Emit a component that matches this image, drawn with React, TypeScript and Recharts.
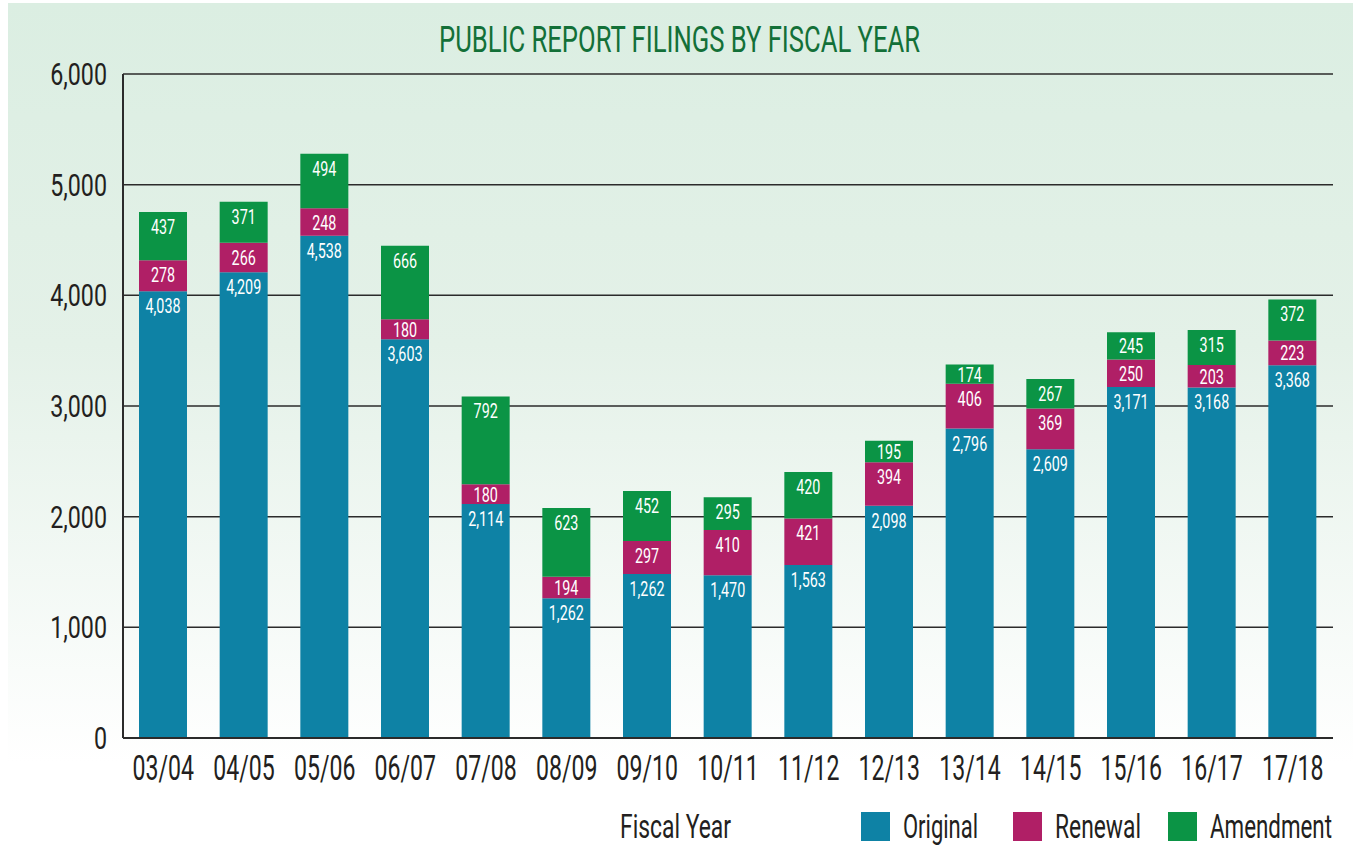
import React from "react";
import { BarChart, Bar, XAxis, YAxis, CartesianGrid, LabelList } from "recharts";

const years = ["03/04", "04/05", "05/06", "06/07", "07/08", "08/09", "09/10", "10/11", "11/12", "12/13", "13/14", "14/15", "15/16", "16/17", "17/18"];
// bar heights as drawn
const original = [4038, 4209, 4538, 3603, 2114, 1262, 1483, 1470, 1563, 2098, 2796, 2609, 3171, 3168, 3368];
const renewal = [278, 266, 248, 180, 180, 194, 297, 410, 421, 394, 406, 369, 250, 203, 223];
const amendment = [437, 371, 494, 666, 792, 623, 452, 295, 420, 195, 174, 267, 245, 315, 372];
// printed labels on the blue segment (09/10 is printed as 1,262 in the source)
const originalPrinted = [4038, 4209, 4538, 3603, 2114, 1262, 1262, 1470, 1563, 2098, 2796, 2609, 3171, 3168, 3368];
const yTicks = [0, 1000, 2000, 3000, 4000, 5000, 6000];

const COLORS = { original: "#0e82a5", renewal: "#b01f66", amendment: "#0b9445" };
const FONT = "Roboto, 'Liberation Sans', sans-serif";
const INK = "#231f20";

const data = years.map((y, i) => ({
  year: y,
  original: original[i],
  renewal: renewal[i],
  amendment: amendment[i],
  originalLabel: originalPrinted[i],
}));

const fmt = (v: number) => v.toLocaleString("en-US");

const legendItems = [
  { name: "Original", color: COLORS.original, x: 861, w: 75 },
  { name: "Renewal", color: COLORS.renewal, x: 1013, w: 86 },
  { name: "Amendment", color: COLORS.amendment, x: 1168, w: 122 },
];

function CondText({ x, y, text, size, fill, anchor, sx }: any) {
  return (
    <text
      transform={`translate(${x} ${y}) scale(${sx} 1)`}
      textAnchor={anchor}
      fontSize={size}
      fontFamily={FONT}
      fill={fill}
    >
      {text}
    </text>
  );
}

function YTick(props: any) {
  const { y, payload } = props;
  return <CondText x={107} y={y + 11} text={fmt(payload.value)} size={31} fill={INK} anchor="end" sx={0.75} />;
}

function XTick(props: any) {
  const { x, y, payload } = props;
  return <CondText x={x} y={y + 34} text={payload.value} size={35} fill={INK} anchor="middle" sx={0.66} />;
}

function BarLabel(props: any) {
  const vb = props.viewBox || props;
  const x = vb.x ?? props.x;
  const y = vb.y ?? props.y;
  const w = vb.width ?? props.width;
  const h = vb.height ?? props.height;
  const base = Math.min(y + 22, y + h / 2 + 7.5);
  return <CondText x={x + w / 2} y={base} text={fmt(Number(props.value))} size={20.5} fill="#ffffff" anchor="middle" sx={0.7} />;
}

export default function App() {
  return (
    <div style={{ position: "absolute", left: 0, top: 0, width: 1353, height: 845, background: "#fff" }}>
      <div
        style={{
          position: "absolute",
          left: 8,
          top: 3,
          width: 1345,
          height: 760,
          background: "linear-gradient(to bottom, #dbeee2 0%, #e4f1e8 45%, #ffffff 100%)",
        }}
      />
      <div style={{ position: "absolute", left: 0, top: 0 }}>
        <BarChart width={1353} height={845} data={data} margin={{ top: 74, right: 20, bottom: 67, left: 0 }}>
          <CartesianGrid vertical={false} stroke="#2b2b2b" strokeWidth={1.5} />
          <XAxis dataKey="year" height={40} tickLine={false} axisLine={{ stroke: "#2b2b2b", strokeWidth: 2 }} tick={<XTick />} />
          <YAxis
            width={123}
            domain={[0, 6000]}
            ticks={yTicks}
            tickLine={false}
            axisLine={{ stroke: "#2b2b2b", strokeWidth: 2 }}
            tick={<YTick />}
          />
          <Bar dataKey="original" stackId="a" fill={COLORS.original} barSize={48} isAnimationActive={false}>
            <LabelList dataKey="originalLabel" content={<BarLabel />} />
          </Bar>
          <Bar dataKey="renewal" stackId="a" fill={COLORS.renewal} barSize={48} isAnimationActive={false}>
            <LabelList dataKey="renewal" content={<BarLabel />} />
          </Bar>
          <Bar dataKey="amendment" stackId="a" fill={COLORS.amendment} barSize={48} isAnimationActive={false}>
            <LabelList dataKey="amendment" content={<BarLabel />} />
          </Bar>
        </BarChart>
      </div>
      <svg width={1353} height={845} style={{ position: "absolute", left: 0, top: 0, pointerEvents: "none" }}>
        <text x={439} y={52} fontSize={36} fontFamily={FONT} fill="#137038" textLength={481} lengthAdjust="spacingAndGlyphs">
          PUBLIC REPORT FILINGS BY FISCAL YEAR
        </text>
        <text x={620} y={838} fontSize={33} fontFamily={FONT} fill={INK} textLength={111} lengthAdjust="spacingAndGlyphs">
          Fiscal Year
        </text>
        {legendItems.map((it) => (
          <g key={it.name}>
            <rect x={it.x} y={812} width={29} height={29} fill={it.color} />
            <text x={it.x + 42} y={838} fontSize={33} fontFamily={FONT} fill={INK} textLength={it.w} lengthAdjust="spacingAndGlyphs">
              {it.name}
            </text>
          </g>
        ))}
      </svg>
    </div>
  );
}
